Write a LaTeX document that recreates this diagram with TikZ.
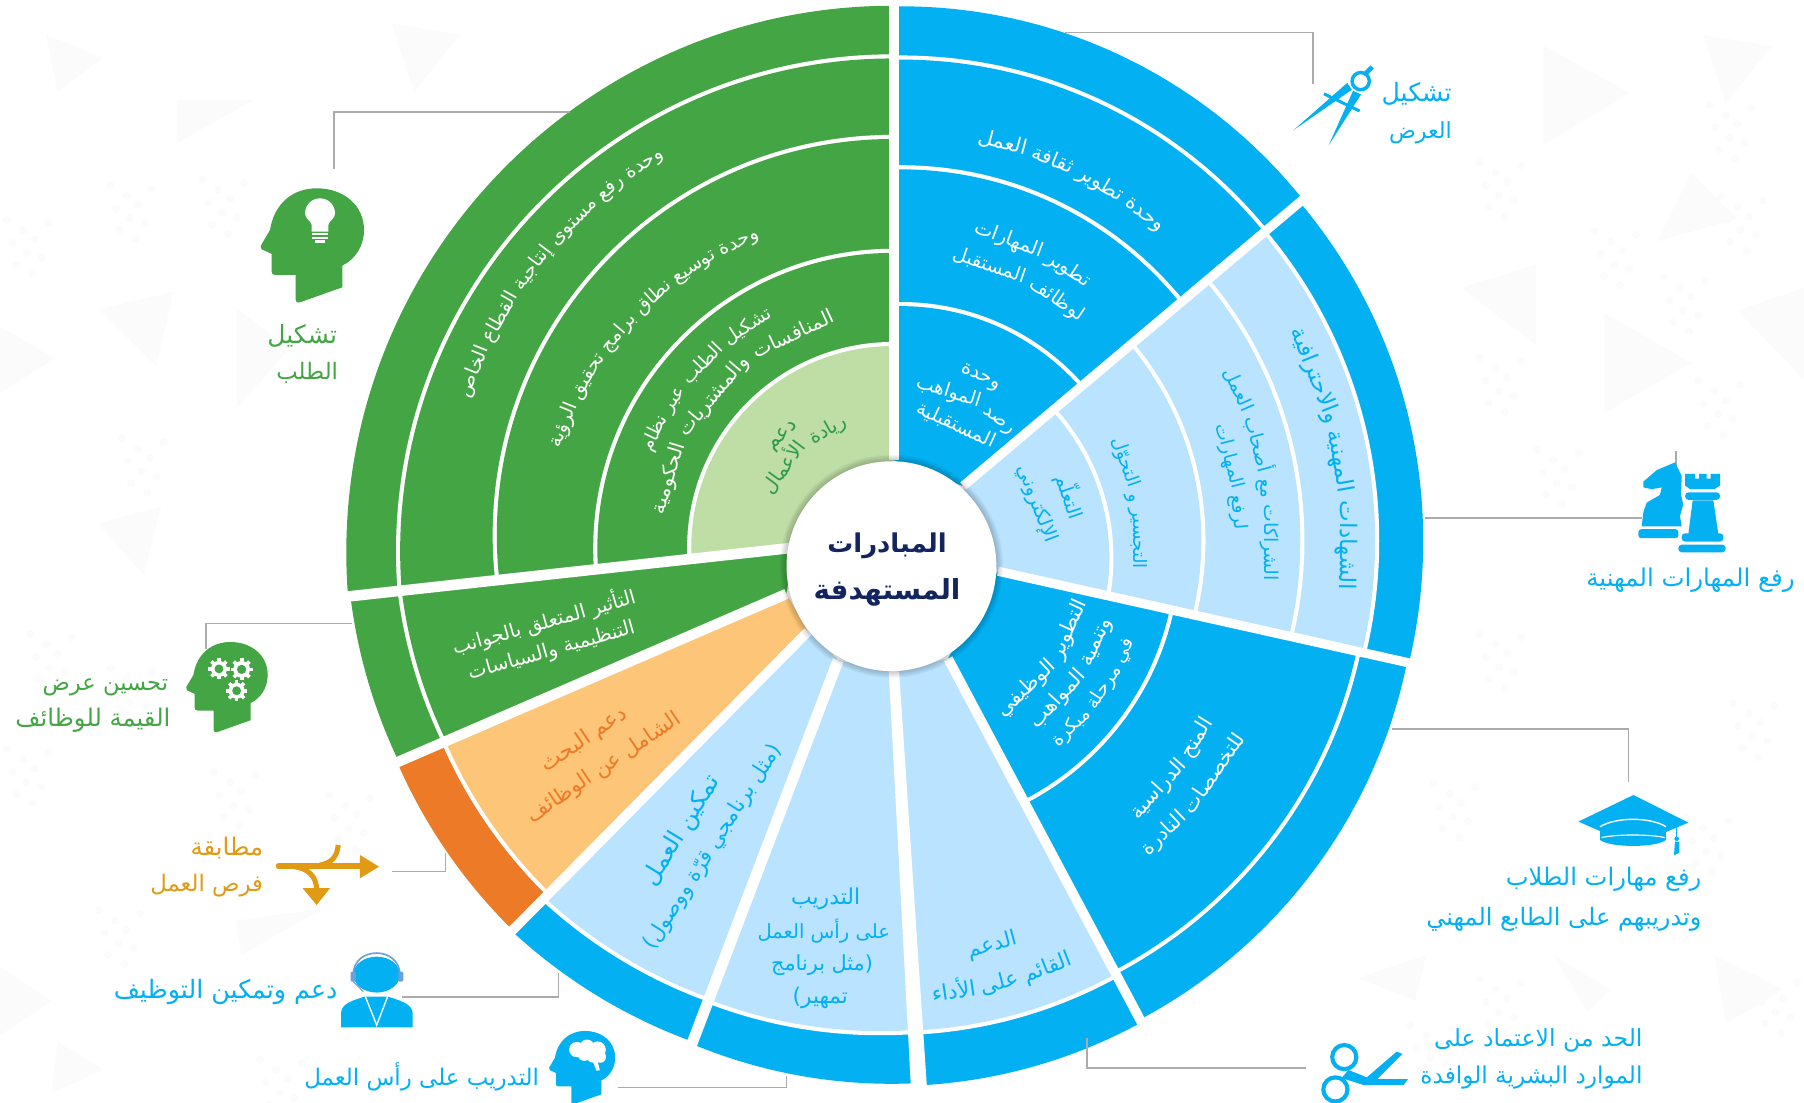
\documentclass[tikz,border=0pt]{standalone}
\usepackage{fontspec}
\usetikzlibrary{calc}
\TeXXeTstate=1
\newfontfamily\arabicfont[Script=Arabic]{DejaVu Sans}
\definecolor{gr}{HTML}{43A543}
\definecolor{lgr}{HTML}{BFDEA6}
\definecolor{dgr}{HTML}{2F9A4C}
\definecolor{bl}{HTML}{03B0F2}
\definecolor{lbl}{HTML}{B9E3FE}
\definecolor{org}{HTML}{EC7A27}
\definecolor{lorg}{HTML}{FDC577}
\definecolor{amb}{HTML}{E09A14}
\definecolor{navy}{HTML}{12255E}
\definecolor{conng}{HTML}{ABABAB}
\definecolor{bgp}{HTML}{FBFBFB}
\definecolor{band}{HTML}{6A9FDC}
\newcommand\af[1]{\fontsize{#1}{#1}\arabicfont}
\tikzset{
  txt/.style={inner sep=0pt},
  conn/.style={draw=conng,line width=1.4pt},
  sepl/.style={draw=white,line width=#1},
  labb/.style={txt,anchor=mid east,text=bl},
}
\newcommand\disc[4]{\fill[#4] (#1,-#2) circle [radius=#3pt];}
\newcommand\ringl[4]{%
  \fill[white] (#1,-#2) circle [radius=#3pt+1.8pt];
  \fill[#4] (#1,-#2) circle [radius=#3pt-1.8pt];}
\newsavebox\wbox
\newcounter{wc}
\newcommand\mwb[2]{\sbox\wbox{\pgfinterruptpicture\af{#1}#2\endpgfinterruptpicture}}
% straight line of text fitted to a width: options, name, x, y, width, cap, text
\newcommand\tline[7]{%
  \mwb{10}{#7}%
  \pgfmathsetmacro\fsz{min(#6,#5/(\the\wd\wbox)*10)}%
  \node (#2) [txt,#1,font=\af{\fsz}] at (#3,-#4) {#7};}
% cx cy r a-right a-left cap colour words
\newcommand\arcwords[8]{%
  \gdef\totw{0}\gdef\nw{0}%
  \foreach \w in {#8}{%
    \mwb{10}{\beginR\w\endR}%
    \pgfmathparse{\totw+\the\wd\wbox}\xdef\totw{\pgfmathresult}%
    \pgfmathparse{\nw+1}\xdef\nw{\pgfmathresult}%
  }%
  \pgfmathsetmacro\sgn{(#5>#4)?1:-1}%
  \pgfmathsetmacro\spanlen{abs(#5-(#4))*pi/180*#3}%
  \pgfmathsetmacro\asz{min(#6,\spanlen/(\totw/10+0.3*(\nw-1)))}%
  \pgfmathsetmacro\tota{\totw*\asz/10}%
  \pgfmathsetmacro\wgap{(\spanlen-\tota)/max(\nw-1,1)*(\nw>1)}%
  \pgfmathsetmacro\wstart{(\spanlen-\tota)/2*(\nw<2)}%
  \xdef\wpos{\wstart}%
  \foreach \w in {#8}{%
    \mwb{\asz}{\beginR\w\endR}%
    \pgfmathsetmacro\wang{#4+\sgn*(\wpos+0.5*\the\wd\wbox)/#3*180/pi}%
    \pgfmathsetmacro\wrot{\sgn>0?\wang-90:\wang+90}%
    \pgfmathsetmacro\wpx{#1+#3*cos(\wang)}%
    \pgfmathsetmacro\wpy{-#2+#3*sin(\wang)}%
    \stepcounter{wc}%
    \node (w\thewc) [txt,rotate=\wrot,anchor=base,font=\af{\asz},text=#7] at (\wpx,\wpy) {\beginR\w\endR};
    \pgfmathparse{\wpos+\the\wd\wbox+\wgap}\xdef\wpos{\pgfmathresult}%
  }%
}
\newcommand\tri[6]{\fill[bgp] (#1,-#2)--(#3,-#4)--(#5,-#6)--cycle;}
\newcommand\dotcl[2]{\foreach \dx/\dy in {0/0,10/8,-9/11,3/20,16/24,-6/30,22/-6,-14/-9,8/38}{\fill[bgp] (#1+\dx,-#2-\dy) circle [radius=3.6pt];}}
\newcommand\gearw[4]{%
  \foreach \ga in {0,45,...,315}{\fill[white,rotate around={\ga:(#1,#2)}] (#1-#3*.17,#2) rectangle (#1+#3*.17,#2+#3);}
  \fill[white] (#1,#2) circle [radius=#3*.76];
  \fill[#4] (#1,#2) circle [radius=#3*.42];}
\newcommand\headpath{(105,-163)--(105,-88)--(43,-88) .. controls (36,-88) and (33,-84) .. (33,-78) -- (33,-25) -- (3,-11) .. controls (0,-8) and (-1,-3) .. (1,1) -- (28,47) .. controls (40,125) and (95,172) .. (168,172) .. controls (250,172) and (310,120) .. (310,47) .. controls (310,0) and (285,-40) .. (245,-60) -- (245,-125) -- (118,-170) .. controls (110,-172) and (105,-170) .. (105,-163) -- cycle}
\begin{document}
\begin{tikzpicture}[x=1pt,y=1pt]
\useasboundingbox (0,0) rectangle (1568,-958.7);
% faint background
\tri{1341.5}{39.4}{1416.8}{81}{1341.5}{125.9}
\tri{1395}{272}{1470}{315.5}{1395}{358.7}
\tri{1480}{30}{1540}{40}{1500}{90}
\tri{1270}{250}{1335}{230}{1335}{300}
\tri{1470}{150}{1510}{190}{1440}{210}
\tri{1510}{270}{1568}{250}{1568}{330}
\tri{205.7}{268}{252}{302.7}{205.7}{354.9}
\tri{85.5}{269}{150.6}{253.5}{136}{318.7}
\tri{0}{284}{47.8}{311.4}{0}{341.8}
\tri{153.5}{86.9}{220}{86.9}{153.5}{124.6}
\tri{40}{30}{90}{50}{50}{80}
\tri{340}{20}{400}{30}{360}{80}
\tri{85}{455}{140}{440}{125}{500}
\tri{0}{840}{45}{870}{0}{900}
\tri{205}{800}{280}{790}{210}{830}
\tri{50}{905}{90}{930}{45}{950}
\tri{1350}{830}{1400}{860}{1380}{880}
\tri{1100}{640}{1190}{660}{1130}{700}
\tri{1180}{850}{1240}{830}{1230}{870}
\tri{1490}{830}{1550}{860}{1500}{890}
\foreach \px/\py in {20/200,110/170,190/165,120/390,40/560,110/590,20/660,100/800,200/680,300/700,240/930,1300/150,1400/210,1500/100,1460/250,1510/180,1300/320,1350/400,1490/340,1300/560,1520/620,1480/720,1260/690,1300/860,1240/900,1540/860}{\dotcl{\px}{\py}}
% separators' end points
\coordinate (s1a) at (777,-400);   \coordinate (s1b) at (777,0);
\coordinate (s2a) at (837.2,-422.4); \coordinate (s2b) at (1130.6,-175);
\coordinate (s3a) at (867.4,-496.5); \coordinate (s3b) at (1223,-575.8);
\coordinate (s4a) at (824,-572.4);  \coordinate (s4b) at (991.5,-887.3);
\coordinate (s5a) at (777,-585);    \coordinate (s5b) at (798.8,-941.6);
\coordinate (s6a) at (728.5,-573.8); \coordinate (s6b) at (601.6,-906.6);
\coordinate (s7a) at (702.2,-549);  \coordinate (s7b) at (446,-808);
\coordinate (s8a) at (683.5,-516.2); \coordinate (s8b) at (345.5,-662.4);
\coordinate (s9a) at (690,-476);    \coordinate (s9b) at (302,-518.5);
\foreach \i in {1,...,9}{\coordinate (f\i) at ($(s\i a)!2.5!(s\i b)$);}
% sectors
\begin{scope}\clip (s1a)--(f1)--(f9)--(s9a)--cycle;
  \disc{776}{480}{475}{gr}
  \ringl{776}{479}{430}{gr}\ringl{776}{465}{346}{gr}\ringl{776}{476.6}{258.6}{gr}\ringl{776}{476}{177}{lgr}
\end{scope}
\begin{scope}\clip (s9a)--(f9)--(f8)--(s8a)--cycle;
  \disc{770}{460}{469}{gr}\ringl{770}{460}{426}{gr}
\end{scope}
\begin{scope}\clip (s8a)--(f8)--(f7)--(s7a)--cycle;
  \disc{770}{478}{463}{org}\ringl{770}{478}{419}{lorg}
\end{scope}
\begin{scope}\clip (s7a)--(f7)--(f6)--(s6a)--cycle;
  \disc{760}{470}{463}{bl}\ringl{760}{470}{424}{lbl}
\end{scope}
\begin{scope}\clip (s6a)--(f6)--(f5)--(s5a)--cycle;
  \disc{775}{492}{450}{bl}\ringl{765}{482}{416}{lbl}
\end{scope}
\begin{scope}\clip (s5a)--(f5)--(f4)--(s4a)--cycle;
  \disc{775}{492}{452}{bl}\ringl{775}{492}{406}{lbl}
\end{scope}
\begin{scope}\clip (s4a)--(f4)--(f3)--(s3a)--cycle;
  \disc{778}{485}{454}{bl}\ringl{778}{480}{412}{bl}\ringl{778}{478}{246}{bl}
\end{scope}
\begin{scope}\clip (s3a)--(f3)--(f2)--(s2a)--cycle;
  \disc{780}{470}{457}{bl}\ringl{780}{470}{417}{lbl}\ringl{780}{470}{352}{lbl}\ringl{780}{470}{266}{lbl}\ringl{775}{485}{191}{lbl}
\end{scope}
\begin{scope}\clip (s2a)--(f2)--(f1)--(s1a)--cycle;
  \disc{783}{453}{447.5}{bl}\ringl{783}{458.8}{408.8}{bl}\ringl{783}{459}{313.6}{bl}\ringl{783}{474}{209.7}{bl}
\end{scope}
% separators
\draw[sepl=8.6pt] (s1a)--($(s1a)!1.06!(s1b)$);
\draw[sepl=8pt] (s2a)--($(s2a)!1.06!(s2b)$);
\draw[sepl=8pt] (s3a)--($(s3a)!1.06!(s3b)$);
\draw[sepl=8.4pt] (s4a)--($(s4a)!1.06!(s4b)$);
\fill[white] (772.5,-584)--(781.5,-584)--(806,-950)--(792,-950)--cycle;
\draw[sepl=9.6pt] (s6a)--($(s6a)!1.06!(s6b)$);
\draw[sepl=8.4pt] (s7a)--($(s7a)!1.06!(s7b)$);
\draw[sepl=9pt] (s8a)--($(s8a)!1.06!(s8b)$);
\draw[sepl=9.2pt] (s9a)--($(s9a)!1.06!(s9b)$);
% centre
\foreach \rr in {97,96,95,94,93,92}{\fill[black,opacity=.035] (774.8,-492.1) circle [radius=\rr pt];}
\node (hub) [circle,fill=white,minimum size=182.4pt,inner sep=0pt] at (774.8,-492.1) {};
\node (ti1) [txt,text=navy,font=\af{22.5}\bfseries] at (771,-474) {\beginR المبادرات\endR};
\node (ti2) [txt,text=navy,font=\af{24}\bfseries] at (771,-515) {\beginR المستهدفة\endR};
% connectors
\coordinate (k1a) at (925.7,-28.2);\coordinate (k1b) at (1141.4,-28.2);\coordinate (k1c) at (1141.4,-73.2);
\draw[conn] (k1a)--(k1b)--(k1c);
\coordinate (k2a) at (1238.6,-450.2);\coordinate (k2b) at (1427,-450.2);
\draw[conn] (k2a)--(k2b);
\coordinate (k2c) at (1456.8,-392);\coordinate (k2d) at (1456.8,-407);
\draw[conn] (k2c)--(k2d);
\coordinate (k3a) at (1209.6,-633.6);\coordinate (k3b) at (1415.3,-633.6);\coordinate (k3c) at (1415.3,-679.4);
\draw[conn] (k3a)--(k3b)--(k3c);
\coordinate (k4a) at (945,-902.6);\coordinate (k4b) at (945,-928.2);\coordinate (k4c) at (1134.9,-928.2);
\draw[conn] (k4a)--(k4b)--(k4c);
\coordinate (k5a) at (537,-945.3);\coordinate (k5b) at (683.5,-945.3);\coordinate (k5c) at (683.5,-935);
\draw[conn] (k5a)--(k5b)--(k5c);
\coordinate (k6a) at (349.8,-866.4);\coordinate (k6b) at (485.5,-866.4);\coordinate (k6c) at (485.5,-845.5);
\draw[conn] (k6a)--(k6b)--(k6c);
\coordinate (k7a) at (340.5,-757.5);\coordinate (k7b) at (387.1,-757.5);\coordinate (k7c) at (387.1,-741.5);
\draw[conn] (k7a)--(k7b)--(k7c);
\coordinate (k8a) at (179,-564.4);\coordinate (k8b) at (179,-541.8);\coordinate (k8c) at (305.6,-541.8);
\draw[conn] (k8a)--(k8b)--(k8c);
\coordinate (k9a) at (290.3,-147.2);\coordinate (k9b) at (290.3,-97.6);\coordinate (k9c) at (495.7,-97.6);
\draw[conn] (k9a)--(k9b)--(k9c);
% ring texts, green
\arcwords{776}{470}{388}{120.7}{161.4}{20}{white}{وحدة,رفع,مستوى,إنتاجية,القطاع,الخاص}
\arcwords{765}{480}{292}{111}{162.1}{20}{white}{وحدة,توسيع,نطاق,برامج,تحقيق,الرؤية}
\arcwords{776}{476}{225}{117.5}{158.5}{18}{white}{تشكيل,الطلب,عبر,نظام}
\arcwords{776}{476}{199}{104}{172}{18}{white}{المنافسات,والمشتريات,الحكومية}
\arcwords{776}{476}{133}{127}{142}{18}{dgr}{دعم}
\arcwords{776}{476}{112}{110}{157}{18}{dgr}{ريادة,الأعمال}
\tline{rotate=15.9,text=white}{tg1}{472.5}{540}{164.6}{19}{\beginR التأثير المتعلق بالجوانب\endR}
\tline{rotate=15.7,text=white}{tg2}{479.4}{566}{150}{19}{\beginR التنظيمية والسياسات\endR}
% orange
\tline{rotate=34,text=org}{to1}{508}{643}{86}{21}{\beginR دعم البحث\endR}
\tline{rotate=34,text=org}{to2}{525}{667.6}{157}{21}{\beginR الشامل عن الوظائف\endR}
% light blue lower
\tline{rotate=58.6,text=bl}{tl1}{593}{722}{113.6}{21}{\beginR تمكين العمل\endR}
\tline{rotate=57.4,text=bl}{tl2}{619.9}{736}{207}{21}{\beginR (مثل برنامجي قرّة ووصول)\endR}
\tline{text=bl}{tm1}{717.6}{781}{60}{20}{\beginR التدريب\endR}
\tline{text=bl}{tm2}{716}{809}{115}{20}{\beginR على رأس العمل\endR}
\tline{text=bl}{tm3}{714.5}{838.7}{88.5}{20}{\beginR (مثل برنامج\endR}
\tline{text=bl}{tm4}{713}{867.8}{48}{20}{\beginR تمهير)\endR}
\arcwords{775}{492}{346}{-71.5}{-78.7}{19}{bl}{الدعم}
\arcwords{775}{492}{380}{-65.5}{-84.6}{19}{bl}{القائم,على,الأداء}
% blue lower right
\arcwords{778}{478}{171}{-15.3}{-57.2}{18}{white}{التطوير,الوظيفي}
\arcwords{778}{478}{197}{-18.1}{-51.6}{18}{white}{وتنمية,المواهب}
\arcwords{778}{478}{222}{-21}{-50.5}{18}{white}{في,مرحلة,مبكرة}
\arcwords{778}{480}{313}{-28.2}{-47.8}{19}{white}{المنح,الدراسية}
\arcwords{778}{480}{343}{-28}{-50.2}{19}{white}{للتخصصات,النادرة}
% light upper right
\arcwords{780}{470}{385}{-6.4}{28.1}{20}{bl}{الشهادات,المهنية,والاحترافية}
\arcwords{780}{470}{319}{-6.2}{27.4}{18}{bl}{الشراكات,مع,أصحاب,العمل}
\arcwords{780}{470}{293}{1.8}{20}{18}{bl}{لرفع,المهارات}
\arcwords{780}{470}{205}{-6.8}{25.2}{19}{bl}{التجسير,و,التحوّل}
\arcwords{775}{485}{157}{11.7}{26.2}{18}{bl}{التعلّم}
\arcwords{775}{485}{130}{4.8}{35.9}{18}{bl}{الإلكتروني}
% blue upper
\arcwords{783}{459}{341}{48.9}{78.8}{20}{white}{وحدة,تطوير,ثقافة,العمل}
\arcwords{783}{459}{263}{52.5}{76.2}{18}{white}{تطوير,المهارات}
\arcwords{783}{459}{236}{49.1}{79.4}{18}{white}{لوظائف,المستقبل}
\arcwords{783}{474}{159}{57.7}{71.5}{17}{white}{وحدة}
\arcwords{783}{474}{135}{45.2}{85}{17}{white}{رصد,المواهب}
\arcwords{783}{474}{110}{46}{84.5}{17}{white}{المستقبلية}
% outer labels
\tline{labb}{l1a}{1262}{86}{61}{23}{\beginR تشكيل\endR}
\tline{labb}{l1b}{1262}{118}{54.5}{23}{\beginR العرض\endR}
\tline{labb}{l2}{1560}{507.5}{181}{23}{\beginR رفع المهارات المهنية\endR}
\tline{labb}{l3a}{1479}{767.5}{170}{23}{\beginR رفع مهارات الطلاب\endR}
\tline{labb}{l3b}{1479}{802}{239}{23}{\beginR وتدريبهم على الطابع المهني\endR}
\tline{labb}{l4a}{1427.8}{907}{181}{23}{\beginR الحد من الاعتماد على\endR}
\tline{labb}{l4b}{1427.8}{940}{193}{23}{\beginR الموارد البشرية الوافدة\endR}
\tline{labb}{l5}{468.7}{941.5}{204}{23}{\beginR التدريب على رأس العمل\endR}
\tline{labb}{l6}{293.5}{866}{194.4}{23}{\beginR دعم وتمكين التوظيف\endR}
\tline{labb,text=amb}{l7a}{228.9}{741}{63}{23}{\beginR مطابقة\endR}
\tline{labb,text=amb}{l7b}{228.9}{773}{98}{23}{\beginR فرص العمل\endR}
\tline{labb,text=gr}{l8a}{146.3}{598}{109}{23}{\beginR تحسين عرض\endR}
\tline{labb,text=gr}{l8b}{148.3}{629.5}{134.7}{23}{\beginR القيمة للوظائف\endR}
\tline{labb,text=gr}{l9a}{293.2}{296}{60.5}{23}{\beginR تشكيل\endR}
\tline{labb,text=gr}{l9b}{294}{328}{53.6}{23}{\beginR الطلب\endR}
% icon: head with bulb
\begin{scope}[shift={(226.6,-213.5)},scale=.2897]
  \fill[gr] \headpath;
  \fill[white] (153,62)--(153,42)--(203,42)--(203,62) .. controls (205,75) and (223,80) .. (223,97) .. controls (223,120) and (205,142) .. (178,142) .. controls (151,142) and (133,120) .. (133,97) .. controls (133,80) and (151,75) .. (153,62)--cycle;
  \fill[white] (153,37) rectangle (203,31);
  \fill[white] (153,27) rectangle (203,21);
  \fill[white] (163,17) rectangle (193,7);
\end{scope}
% icon: head with gears
\begin{scope}[shift={(161.7,-597.4)},scale=.229]
  \fill[gr] \headpath;
  \gearw{125}{70}{40}{gr}\gearw{211}{68}{42}{gr}\gearw{192}{-13}{40}{gr}
\end{scope}
% icon: head with brain
\begin{scope}[shift={(477.2,-928)},scale=.1855]
  \fill[bl] \headpath;
  \fill[white] (130,85) circle [radius=36];\fill[white] (178,98) circle [radius=34];
  \fill[white] (228,85) circle [radius=38];\fill[white] (240,50) circle [radius=27];
  \fill[white] (165,62) circle [radius=30];\fill[white] (205,52) circle [radius=28];
  \fill[white] (205,30)--(228,30)--(238,-12)--(222,-14)--cycle;
\end{scope}
% icon: compass
\draw[bl,line width=3pt] (1182.7,-70.5) circle [radius=7.5pt];
\draw[bl,line width=4pt] (1186.5,-64.5)--(1192.6,-58.2);
\draw[bl,line width=2.6pt] (1150.7,-81.5)--(1181.8,-96.5);
\fill[bl] (1124.4,-113)--(1171,-72)--(1175,-78)--cycle;
\fill[bl] (1154.8,-126.4)--(1176,-79)--(1183,-82)--cycle;
% icon: chess
\fill[bl] (1426.9,-457.5)--(1428.4,-445)--(1431.3,-436.8)--(1442.8,-430.2)--(1444.3,-423.6)--(1435.6,-425.2)--(1428.4,-423.6)--(1428.4,-418.6)--(1440,-408.6)--(1455.9,-401.9)--(1461.7,-413.6)--(1461.1,-430.2)--(1463,-438.5)--(1460.2,-448.5)--(1461.7,-457.5)--cycle;
\fill[bl,rounded corners=2.5pt] (1424,-460) rectangle (1458.8,-467.8);
\fill[bl,rounded corners=3pt] (1458.8,-473.4) rectangle (1499.9,-480.1);
\fill[bl,rounded corners=3pt] (1461.7,-463.5) rectangle (1497.9,-470.8);
\fill[bl] (1467.5,-464)--(1493.5,-464)--(1489.2,-435)--(1471.2,-435)--cycle;
\fill[bl,rounded corners=3pt] (1464.6,-427.9) rectangle (1495,-434.5);
\fill[bl] (1464.6,-411.9)--(1473.3,-411.9)--(1473.3,-416)--(1476.8,-416)--(1476.8,-411.9)--(1483.4,-411.9)--(1483.4,-416)--(1486.9,-416)--(1486.9,-411.9)--(1495,-411.9)--(1495,-422)--(1490,-425.2)--(1469,-425.2)--(1464.6,-422)--cycle;
% icon: cap
\fill[bl] (1371.9,-714.1)--(1419.7,-691)--(1467.5,-715)--(1419.7,-735)--cycle;
\fill[bl] (1390.7,-722)--(1448,-722)--(1448,-730) .. controls (1440,-737) and (1399,-737) .. (1390.7,-730)--cycle;
\draw[white,line width=1.2pt] (1390.7,-718.5) .. controls (1405,-710) and (1434,-710) .. (1448,-718.5);
\draw[white,line width=1pt] (1392,-728) .. controls (1405,-725) and (1434,-725) .. (1447,-728);
\draw[bl,line width=1pt] (1457.3,-718.5)--(1457.3,-730);
\fill[bl] (1457.3,-729) circle [radius=2pt];
\fill[bl] (1455.8,-731.5)--(1459.6,-731.5)--(1459.6,-741)--(1455,-743.5)--cycle;
% icon: scissors
\draw[bl,line width=3.6pt] (1168.4,-918.8) circle [radius=10.5pt];
\draw[bl,line width=3.6pt] (1160.7,-946.9) circle [radius=10.5pt];
\fill[bl] (1172,-930)--(1192,-938)--(1223.7,-938)--(1220,-943)--(1185,-943)--(1166,-937)--cycle;
\fill[bl] (1185,-939)--(1214,-914)--(1219,-916)--(1195,-940)--cycle;
% icon: headset
\fill[bl] (327.4,-847.1) ellipse [x radius=20.3pt,y radius=15.6pt];
\draw[band,line width=1.4pt] (307,-847.4) .. controls (307,-822) and (347.6,-822) .. (347.6,-847.4);
\fill[band,rounded corners=1pt] (304.8,-844.5) rectangle (309.4,-853.2);
\fill[band,rounded corners=1pt] (346.2,-844.5) rectangle (350.5,-853.2);
\draw[band,line width=1pt] (307,-853.2)--(315.8,-861.9);
\fill[bl] (296.4,-892.9)--(296.4,-880.7) .. controls (297,-874) and (301,-871) .. (317.2,-866.2)--(337,-866.2) .. controls (353,-871) and (358,-874) .. (358.7,-880.7)--(358.7,-892.9)--cycle;
\draw[white,line width=1.2pt] (317.5,-866)--(327.4,-891)--(337,-866);
% icon: arrows
\draw[amb,line width=4.4pt,line cap=round] (241.9,-752.7)--(312.9,-752.7);
\fill[amb] (312.9,-743.1)--(329.4,-753.3)--(312.9,-763.4)--cycle;
\draw[amb,line width=4.4pt] (294,-734.4) .. controls (293,-745) and (288,-750) .. (278,-752);
\draw[amb,line width=4.4pt] (256,-753.3) .. controls (268,-755) and (275,-762) .. (275.2,-773);
\fill[amb] (263,-772)--(286.8,-772)--(275.2,-786.6)--cycle;
\end{tikzpicture}
\end{document}
